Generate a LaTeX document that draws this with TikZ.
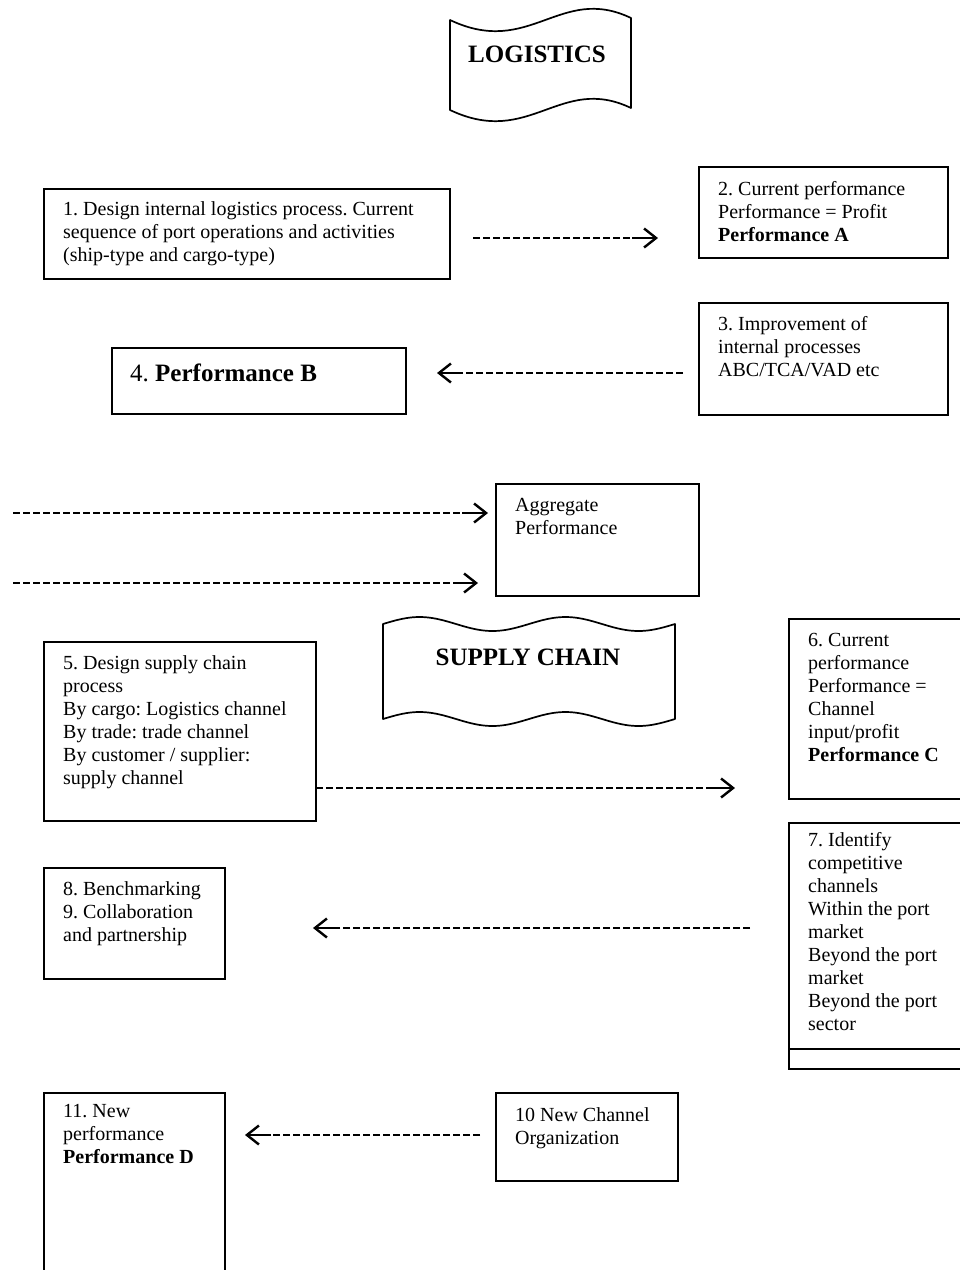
\documentclass[tikz,border=0pt]{standalone}
\usepackage{fontspec}
\setmainfont{Liberation Serif}
\usetikzlibrary{arrows.meta}
\newcommand{\tstr}{\rule{0pt}{16pt}}
\newcommand{\bstr}{\rule{0pt}{20pt}}
\frenchspacing
\begin{document}
\begin{tikzpicture}[x=1pt,y=-1pt,
  box/.style={draw, line width=1.7pt, inner sep=0pt, anchor=north west},
  txt/.style={anchor=north west, inner sep=0pt, align=left, font=\fontsize{20}{23}\selectfont\frenchspacing},
  big/.style={anchor=base, inner sep=0pt, font=\fontsize{25}{29}\selectfont\bfseries},
  dashline/.style={line width=1.5pt, dash pattern=on 7pt off 3pt},
  glyph/.style={line width=2.2pt, -{Straight Barb[length=12pt,width=19pt,line width=2.4pt]}},
  banner/.style={line width=1.7pt, line join=round}
]
\useasboundingbox (0,0) rectangle (960,1270);
\fill[white] (0,0) rectangle (960,1270);
\clip (0,0) rectangle (960,1270);

% LOGISTICS banner
\draw[banner] (450,20) .. controls (530,58) and (560,-16) .. (631,18) -- (631,108)
  .. controls (560,74) and (530,148) .. (450,110) -- cycle;
\node[big] (logi) at (537,62) {LOGISTICS};

% SUPPLY CHAIN banner
\draw[banner] plot[domain=383:675, samples=90] (\x, {624 + 7*sin((\x-383)*2.46575 + 180)})
  -- plot[domain=675:383, samples=90] (\x, {719 + 7*sin((\x-383)*2.46575 + 180)}) -- cycle;
\node[big] (supc) at (528,665) {SUPPLY CHAIN};

% boxes
\node[box, minimum width=406pt, minimum height=90pt] (b1) at (43,188) {};
\node[txt] (t1) at (63,199) {\tstr 1. Design internal logistics process. Current\\sequence of port operations and activities\\(ship-type and cargo-type)};

\node[box, minimum width=249pt, minimum height=91pt] (b2) at (698,166) {};
\node[txt] (t2) at (718,179) {\tstr 2. Current performance\\Performance = Profit\\\textbf{Performance A}};

\node[box, minimum width=249pt, minimum height=112pt] (b3) at (698,302) {};
\node[txt] (t3) at (718,314) {\tstr 3. Improvement of\\internal processes\\ABC/TCA/VAD etc};

\node[box, minimum width=294pt, minimum height=66pt] (b4) at (111,347) {};
\node[txt, font=\fontsize{25}{29}\selectfont\frenchspacing] (t4) at (130,361) {\bstr 4. \textbf{Performance B}};

\node[box, minimum width=203pt, minimum height=112pt] (agg) at (495,483) {};
\node[txt] (tagg) at (515,495) {\tstr Aggregate\\Performance};

\node[box, minimum width=272pt, minimum height=179pt] (b5) at (43,641) {};
\node[txt] (t5) at (63,653) {\tstr 5. Design supply chain\\process\\By cargo: Logistics channel\\By trade: trade channel\\By customer / supplier:\\supply channel};

\node[box, minimum width=190pt, minimum height=180pt] (b6) at (788,618) {};
\node[txt] (t6) at (808,630) {\tstr 6. Current\\performance\\Performance =\\Channel\\input/profit\\\textbf{Performance C}};

\node[box, minimum width=190pt, minimum height=246pt] (b7) at (788,822) {};
\draw[line width=1.7pt] ([yshift=21pt]b7.south west) -- ([yshift=21pt]b7.south east);
\node[txt] (t7) at (808,830) {\tstr 7. Identify\\competitive\\channels\\Within the port\\market\\Beyond the port\\market\\Beyond the port\\sector};

\node[box, minimum width=181pt, minimum height=111pt] (b8) at (43,867) {};
\node[txt] (t8) at (63,879) {\tstr 8. Benchmarking\\9. Collaboration\\and partnership};

\node[box, minimum width=182pt, minimum height=88pt] (b10) at (495,1092) {};
\node[txt] (t10) at (515,1105) {\tstr 10 New Channel\\Organization};

\node[box, minimum width=181pt, minimum height=200pt] (b11) at (43,1092) {};
\node[txt] (t11) at (63,1101) {\tstr 11. New\\performance\\\textbf{Performance D}};

% connectors (dashed lines ending in an arrow)
\coordinate (a1s) at (473,238); \coordinate (a1m) at (632,238); \coordinate (a1e) at (658,238);
\draw[dashline] (a1s) -- (a1m); \draw[glyph] (a1m) -- (a1e);

\coordinate (a2s) at (683,373); \coordinate (a2m) at (463,373); \coordinate (a2e) at (437,373);
\draw[dashline] (a2s) -- (a2m); \draw[glyph] (a2m) -- (a2e);

\coordinate (a3s) at (13,513); \coordinate (a3m) at (462,513); \coordinate (a3e) at (488,513);
\draw[dashline] (a3s) -- (a3m); \draw[glyph] (a3m) -- (a3e);

\coordinate (a4s) at (13,583); \coordinate (a4m) at (453,583); \coordinate (a4e) at (478,583);
\draw[dashline] (a4s) -- (a4m); \draw[glyph] (a4m) -- (a4e);

\coordinate (a5s) at (316,788); \coordinate (a5m) at (710,788); \coordinate (a5e) at (735,788);
\draw[dashline] (a5s) -- (a5m); \draw[glyph] (a5m) -- (a5e);

\coordinate (a6s) at (750,928); \coordinate (a6m) at (339,928); \coordinate (a6e) at (313,928);
\draw[dashline] (a6s) -- (a6m); \draw[glyph] (a6m) -- (a6e);

\coordinate (a7s) at (480,1135); \coordinate (a7m) at (271,1135); \coordinate (a7e) at (245,1135);
\draw[dashline] (a7s) -- (a7m); \draw[glyph] (a7m) -- (a7e);
\end{tikzpicture}
\end{document}
